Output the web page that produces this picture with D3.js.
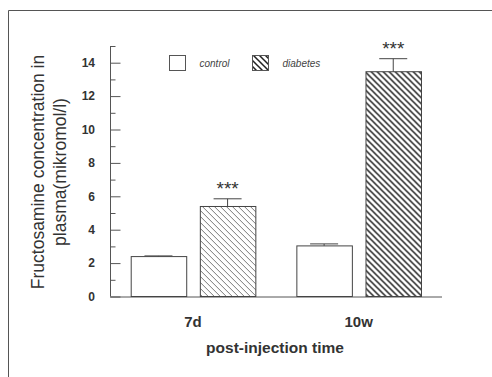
<!DOCTYPE html>
<html>
<head>
<meta charset="utf-8">
<script src="https://cdn.jsdelivr.net/npm/d3@7"></script>
<style>
  body { margin: 0; background: #fff; }
  svg text { font-family: "Liberation Sans", Arial, sans-serif; }
</style>
</head>
<body>
<main></main>
<script>
// Fructosamine bar chart with D3

const times = ["7d", "10w"];
const groups = ["control", "diabetes"];
const controlValues = [2.39, 3.03];
const controlErrors = [0.04, 0.12];
const diabetesValues = [5.39, 13.46];
const diabetesErrors = [0.46, 0.78];
const signif = ["***", "***"];
const yTicks = [0, 2, 4, 6, 8, 10, 12, 14];

document.addEventListener('DOMContentLoaded', function(){

	const w = 492;
	const h = 377;

	const svg = d3.select("main")
				  .append("svg")
				  .attr("width", w)
				  .attr("height", h);

	//Frame
	svg.append("path")
	   .attr("d", "M8.5," + h + "V10.5H" + w)
	   .attr("fill", "none")
	   .attr("stroke", "#555")
	   .attr("stroke-width", 1);

	//Hatch patterns
	const defs = svg.append("defs");
	function hatch(id, color, width){
		const p = defs.append("pattern")
					  .attr("id", id)
					  .attr("patternUnits", "userSpaceOnUse")
					  .attr("width", 6)
					  .attr("height", 6);
		p.append("path")
		 .attr("d", "M-1.5,4.5L1.5,7.5M0,0L6,6M4.5,-1.5L7.5,1.5")
		 .attr("stroke", color)
		 .attr("stroke-width", width);
	}
	hatch("hatchFine", "#555", 0.8);
	hatch("hatchBold", "#222", 1.5);

	//Scales
	const x0 = d3.scaleBand()
				 .domain(times)
				 .range([110, 441.7])
				 .paddingInner(0.2476)
				 .paddingOuter(0.125);

	const x1 = d3.scaleBand()
				 .domain(groups)
				 .range([0, x0.bandwidth()])
				 .paddingInner(0.197);

	const y = d3.scaleLinear()
				.domain([0, 15])
				.range([296.5, 46]);

	//Axes
	const yAxis = d3.axisRight(y)
					.tickValues(yTicks)
					.tickSize(10)
					.tickFormat("");

	const yMinor = d3.axisRight(y)
					 .tickValues(d3.range(1, 16, 2))
					 .tickSize(5)
					 .tickFormat("");

	const gy = svg.append("g")
				  .attr("transform", "translate(110.5,0)")
				  .call(yAxis);
	svg.append("g")
	   .attr("transform", "translate(110.5,0)")
	   .call(yMinor)
	   .select(".domain").remove();
	gy.select(".domain").attr("d", "M0," + y(15) + "V" + y(0));
	svg.selectAll(".tick line").attr("stroke", "#555");
	gy.select(".domain").attr("stroke", "#555");

	svg.append("g")
	   .selectAll("text")
	   .data(yTicks)
	   .enter()
	   .append("text")
	   .attr("x", 95)
	   .attr("y", d => y(d))
	   .attr("dy", "0.36em")
	   .attr("text-anchor", "end")
	   .attr("font-size", 12)
	   .attr("font-weight", "bold")
	   .attr("fill", "#333")
	   .text(d => d);

	//X axis line
	svg.append("line")
	   .attr("x1", 110)
	   .attr("x2", 442)
	   .attr("y1", y(0) + 0.5)
	   .attr("y2", y(0) + 0.5)
	   .attr("stroke", "#555");

	//Category labels
	svg.selectAll(".cat")
	   .data(times)
	   .enter()
	   .append("text")
	   .attr("class", "cat")
	   .attr("x", d => x0(d) + x0.bandwidth() / 2)
	   .attr("y", 327)
	   .attr("text-anchor", "middle")
	   .attr("font-size", 15)
	   .attr("font-weight", "bold")
	   .attr("fill", "#333")
	   .text(d => d);

	//Axis titles
	svg.append("text")
	   .attr("x", 275)
	   .attr("y", 353)
	   .attr("text-anchor", "middle")
	   .attr("font-size", 15.5)
	   .attr("font-weight", "bold")
	   .attr("fill", "#333")
	   .text("post-injection time");

	const yt = svg.append("text")
				  .attr("transform", "translate(0,172) rotate(-90)")
				  .attr("text-anchor", "middle")
				  .attr("font-size", 17.5)
				  .attr("fill", "#333");
	yt.append("tspan").attr("x", 0).attr("y", 44).text("Fructosamine concentration in");
	yt.append("tspan").attr("x", 0).attr("y", 66).text("plasma(mikromol/l)");

	//Bars
	const rows = times.map((t, i) => [
		{time: t, group: "control", value: controlValues[i], err: controlErrors[i], fill: "#fff"},
		{time: t, group: "diabetes", value: diabetesValues[i], err: diabetesErrors[i],
		 fill: i === 0 ? "url(#hatchFine)" : "url(#hatchBold)", star: signif[i]}
	]).flat();

	const bars = svg.append("g")
					.selectAll("g")
					.data(rows)
					.enter()
					.append("g")
					.attr("transform", d => "translate(" + (x0(d.time) + x1(d.group)) + ",0)");

	// error bars
	bars.append("line")
		.attr("x1", x1.bandwidth() / 2)
		.attr("x2", x1.bandwidth() / 2)
		.attr("y1", d => y(d.value))
		.attr("y2", d => y(d.value + d.err))
		.attr("stroke", "#444");
	bars.append("line")
		.attr("x1", x1.bandwidth() / 2 - 14)
		.attr("x2", x1.bandwidth() / 2 + 14)
		.attr("y1", d => y(d.value + d.err))
		.attr("y2", d => y(d.value + d.err))
		.attr("stroke", "#444");

	bars.append("rect")
		.attr("x", 0.5)
		.attr("y", d => y(d.value))
		.attr("width", x1.bandwidth())
		.attr("height", d => y(0) - y(d.value))
		.attr("fill", d => d.fill)
		.attr("stroke", "#444")
		.attr("stroke-width", 1);

	bars.filter(d => d.star)
		.append("text")
		.attr("x", x1.bandwidth() / 2)
		.attr("y", d => y(d.value + d.err) - 4)
		.attr("text-anchor", "middle")
		.attr("font-size", 19)
		.attr("fill", "#333")
		.text(d => d.star);

	//Legend
	const legend = svg.append("g");
	const legendX = [169.5, 252.5];
	groups.forEach((g, i) => {
		legend.append("rect")
			  .attr("x", legendX[i])
			  .attr("y", 55.5)
			  .attr("width", 16)
			  .attr("height", 15)
			  .attr("fill", i === 0 ? "#fff" : "url(#hatchBold)")
			  .attr("stroke", "#555");
		legend.append("text")
			  .attr("x", legendX[i] + 30)
			  .attr("y", 63)
			  .attr("dy", "0.35em")
			  .attr("font-size", 10)
			  .attr("font-style", "italic")
			  .attr("fill", "#444")
			  .text(g);
	});
});
</script>
</body>
</html>
